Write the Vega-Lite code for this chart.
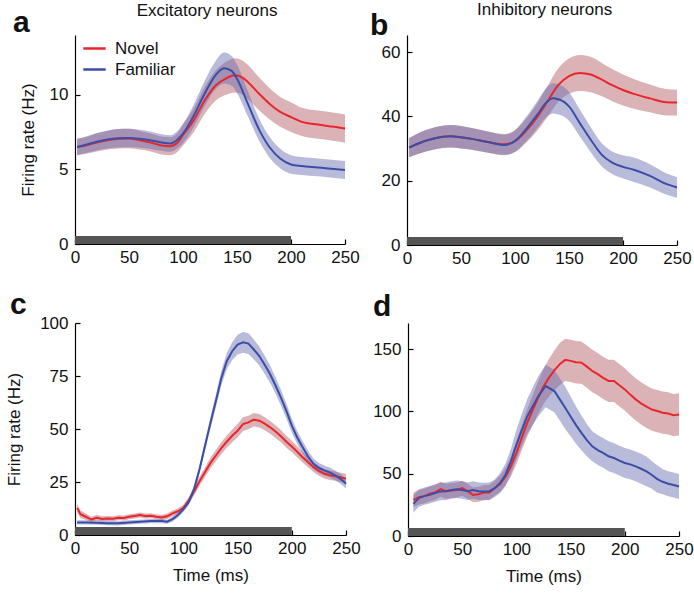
{
  "$schema": "https://vega.github.io/schema/vega-lite/v6.json",
  "background": "white",
  "padding": {"left": 5, "top": 0, "right": 2, "bottom": 2},
  "config": {
    "font": "Liberation Sans",
    "view": {"stroke": null},
    "axis": {"grid": false, "domainColor": "#000", "domainWidth": 1.2, "tickColor": "#000", "tickWidth": 1.2, "tickSize": -5, "labelFontSize": 17, "labelColor": "#111", "titleFontSize": 17, "titleFontWeight": "normal", "titleColor": "#111", "labelPadding": 10, "labelFlush": false},
    "axisY": {"labelPadding": 12},
    "legend": {"labelFontSize": 17, "labelColor": "#111", "symbolStrokeWidth": 2.5, "symbolSize": 500, "rowPadding": 0, "labelOffset": 8},
    "title": {"font": "Liberation Sans", "color": "#111"}
  },
  "datasets": {
    "pa": [
      {"t":2,"s":"Novel","m":6.5,"lo":5.95,"hi":7.05},{"t":10,"s":"Novel","m":6.6,"lo":6.05,"hi":7.15},{"t":20,"s":"Novel","m":6.8,"lo":6.2,"hi":7.4},{"t":30,"s":"Novel","m":6.95,"lo":6.33,"hi":7.57},{"t":40,"s":"Novel","m":7.05,"lo":6.4,"hi":7.7},{"t":50,"s":"Novel","m":7.07,"lo":6.42,"hi":7.72},{"t":60,"s":"Novel","m":6.95,"lo":6.33,"hi":7.57},{"t":70,"s":"Novel","m":6.8,"lo":6.2,"hi":7.4},{"t":80,"s":"Novel","m":6.6,"lo":6.0,"hi":7.2},{"t":88,"s":"Novel","m":6.55,"lo":5.95,"hi":7.15},{"t":95,"s":"Novel","m":6.8,"lo":6.18,"hi":7.42},{"t":100,"s":"Novel","m":7.3,"lo":6.6,"hi":8.0},{"t":110,"s":"Novel","m":8.3,"lo":7.5,"hi":9.1},{"t":120,"s":"Novel","m":9.6,"lo":8.7,"hi":10.5},{"t":130,"s":"Novel","m":10.6,"lo":9.6,"hi":11.6},{"t":140,"s":"Novel","m":11.1,"lo":10.0,"hi":12.2},{"t":148,"s":"Novel","m":11.3,"lo":10.15,"hi":12.45},{"t":155,"s":"Novel","m":11.15,"lo":10.0,"hi":12.3},{"t":160,"s":"Novel","m":10.85,"lo":9.7,"hi":12.0},{"t":170,"s":"Novel","m":10.1,"lo":9.0,"hi":11.2},{"t":180,"s":"Novel","m":9.4,"lo":8.35,"hi":10.45},{"t":190,"s":"Novel","m":8.85,"lo":7.85,"hi":9.85},{"t":200,"s":"Novel","m":8.5,"lo":7.5,"hi":9.5},{"t":210,"s":"Novel","m":8.18,"lo":7.23,"hi":9.13},{"t":225,"s":"Novel","m":8.0,"lo":7.05,"hi":8.95},{"t":240,"s":"Novel","m":7.85,"lo":6.9,"hi":8.8},{"t":250,"s":"Novel","m":7.73,"lo":6.78,"hi":8.68},
      {"t":2,"s":"Familiar","m":6.5,"lo":5.95,"hi":7.05},{"t":10,"s":"Familiar","m":6.65,"lo":6.1,"hi":7.2},{"t":20,"s":"Familiar","m":6.85,"lo":6.27,"hi":7.43},{"t":30,"s":"Familiar","m":7.0,"lo":6.4,"hi":7.6},{"t":40,"s":"Familiar","m":7.08,"lo":6.46,"hi":7.7},{"t":50,"s":"Familiar","m":7.1,"lo":6.48,"hi":7.72},{"t":60,"s":"Familiar","m":7.05,"lo":6.45,"hi":7.65},{"t":70,"s":"Familiar","m":6.95,"lo":6.37,"hi":7.53},{"t":80,"s":"Familiar","m":6.8,"lo":6.25,"hi":7.35},{"t":88,"s":"Familiar","m":6.73,"lo":6.18,"hi":7.28},{"t":95,"s":"Familiar","m":7.0,"lo":6.42,"hi":7.58},{"t":100,"s":"Familiar","m":7.4,"lo":6.75,"hi":8.05},{"t":110,"s":"Familiar","m":8.6,"lo":7.85,"hi":9.35},{"t":120,"s":"Familiar","m":10.07,"lo":9.22,"hi":10.92},{"t":130,"s":"Familiar","m":11.3,"lo":10.35,"hi":12.25},{"t":138,"s":"Familiar","m":11.78,"lo":10.73,"hi":12.83},{"t":145,"s":"Familiar","m":11.6,"lo":10.6,"hi":12.6},{"t":150,"s":"Familiar","m":11.07,"lo":10.12,"hi":12.02},{"t":160,"s":"Familiar","m":9.4,"lo":8.55,"hi":10.25},{"t":170,"s":"Familiar","m":7.73,"lo":6.98,"hi":8.48},{"t":180,"s":"Familiar","m":6.5,"lo":5.8,"hi":7.2},{"t":190,"s":"Familiar","m":5.73,"lo":5.08,"hi":6.38},{"t":200,"s":"Familiar","m":5.33,"lo":4.71,"hi":5.95},{"t":210,"s":"Familiar","m":5.22,"lo":4.62,"hi":5.82},{"t":225,"s":"Familiar","m":5.13,"lo":4.53,"hi":5.73},{"t":240,"s":"Familiar","m":5.02,"lo":4.42,"hi":5.62},{"t":250,"s":"Familiar","m":4.96,"lo":4.36,"hi":5.56}
    ],
    "pb": [
      {"t":2,"s":"Novel","m":30.3,"lo":27.3,"hi":33.3},{"t":10,"s":"Novel","m":31.5,"lo":28.3,"hi":34.7},{"t":25,"s":"Novel","m":33.1,"lo":29.7,"hi":36.5},{"t":40,"s":"Novel","m":33.8,"lo":30.3,"hi":37.3},{"t":50,"s":"Novel","m":33.5,"lo":30.0,"hi":37.0},{"t":60,"s":"Novel","m":33.0,"lo":29.6,"hi":36.4},{"t":75,"s":"Novel","m":32.0,"lo":28.7,"hi":35.3},{"t":90,"s":"Novel","m":31.3,"lo":28.1,"hi":34.5},{"t":100,"s":"Novel","m":32.3,"lo":28.9,"hi":35.7},{"t":110,"s":"Novel","m":35.4,"lo":31.7,"hi":39.1},{"t":120,"s":"Novel","m":39.5,"lo":35.3,"hi":43.7},{"t":130,"s":"Novel","m":44.6,"lo":39.8,"hi":49.4},{"t":140,"s":"Novel","m":49.7,"lo":44.5,"hi":54.9},{"t":150,"s":"Novel","m":52.5,"lo":47.0,"hi":58.0},{"t":160,"s":"Novel","m":53.5,"lo":47.9,"hi":59.1},{"t":170,"s":"Novel","m":53.0,"lo":47.5,"hi":58.5},{"t":180,"s":"Novel","m":51.5,"lo":46.3,"hi":56.7},{"t":190,"s":"Novel","m":49.7,"lo":44.7,"hi":54.7},{"t":200,"s":"Novel","m":48.2,"lo":43.4,"hi":53.0},{"t":210,"s":"Novel","m":47.0,"lo":42.4,"hi":51.6},{"t":225,"s":"Novel","m":45.6,"lo":41.3,"hi":49.9},{"t":240,"s":"Novel","m":44.4,"lo":40.3,"hi":48.5},{"t":250,"s":"Novel","m":44.3,"lo":40.3,"hi":48.3},
      {"t":2,"s":"Familiar","m":30.3,"lo":27.3,"hi":33.3},{"t":10,"s":"Familiar","m":31.5,"lo":28.3,"hi":34.7},{"t":25,"s":"Familiar","m":33.1,"lo":29.7,"hi":36.5},{"t":40,"s":"Familiar","m":33.8,"lo":30.3,"hi":37.3},{"t":50,"s":"Familiar","m":33.5,"lo":30.0,"hi":37.0},{"t":60,"s":"Familiar","m":33.0,"lo":29.6,"hi":36.4},{"t":75,"s":"Familiar","m":32.0,"lo":28.7,"hi":35.3},{"t":90,"s":"Familiar","m":31.1,"lo":27.9,"hi":34.3},{"t":100,"s":"Familiar","m":32.3,"lo":28.9,"hi":35.7},{"t":110,"s":"Familiar","m":35.9,"lo":32.1,"hi":39.7},{"t":120,"s":"Familiar","m":40.2,"lo":36.0,"hi":44.4},{"t":130,"s":"Familiar","m":44.6,"lo":40.0,"hi":49.2},{"t":135,"s":"Familiar","m":45.6,"lo":40.9,"hi":50.3},{"t":140,"s":"Familiar","m":45.3,"lo":40.6,"hi":50.0},{"t":145,"s":"Familiar","m":44.6,"lo":40.0,"hi":49.2},{"t":150,"s":"Familiar","m":43.1,"lo":38.6,"hi":47.6},{"t":160,"s":"Familiar","m":37.9,"lo":33.7,"hi":42.1},{"t":170,"s":"Familiar","m":32.8,"lo":28.9,"hi":36.7},{"t":180,"s":"Familiar","m":28.2,"lo":24.6,"hi":31.8},{"t":190,"s":"Familiar","m":25.6,"lo":22.1,"hi":29.1},{"t":200,"s":"Familiar","m":24.3,"lo":20.7,"hi":27.9},{"t":210,"s":"Familiar","m":23.4,"lo":19.6,"hi":27.2},{"t":225,"s":"Familiar","m":21.5,"lo":17.9,"hi":25.1},{"t":240,"s":"Familiar","m":19.0,"lo":15.7,"hi":22.3},{"t":250,"s":"Familiar","m":17.9,"lo":14.7,"hi":21.1}
    ],
    "pc": [
      {"t":2,"s":"Novel","m":12.8,"lo":10.8,"hi":14.8},{"t":5,"s":"Novel","m":9.8,"lo":8.0,"hi":11.6},{"t":10,"s":"Novel","m":8.6,"lo":7.1,"hi":10.1},{"t":15,"s":"Novel","m":7.3,"lo":6.0,"hi":8.6},{"t":20,"s":"Novel","m":8.1,"lo":6.8,"hi":9.4},{"t":25,"s":"Novel","m":7.6,"lo":6.4,"hi":8.8},{"t":30,"s":"Novel","m":7.8,"lo":6.6,"hi":9.0},{"t":35,"s":"Novel","m":7.7,"lo":6.5,"hi":8.9},{"t":40,"s":"Novel","m":8.1,"lo":6.9,"hi":9.3},{"t":45,"s":"Novel","m":8.0,"lo":6.8,"hi":9.2},{"t":50,"s":"Novel","m":8.6,"lo":7.4,"hi":9.8},{"t":55,"s":"Novel","m":9.0,"lo":7.8,"hi":10.2},{"t":60,"s":"Novel","m":9.4,"lo":8.2,"hi":10.6},{"t":65,"s":"Novel","m":9.0,"lo":7.8,"hi":10.2},{"t":70,"s":"Novel","m":9.1,"lo":7.9,"hi":10.3},{"t":75,"s":"Novel","m":8.6,"lo":7.4,"hi":9.8},{"t":80,"s":"Novel","m":8.3,"lo":7.1,"hi":9.5},{"t":85,"s":"Novel","m":8.8,"lo":7.5,"hi":10.1},{"t":90,"s":"Novel","m":10.2,"lo":8.9,"hi":11.5},{"t":95,"s":"Novel","m":11.2,"lo":9.8,"hi":12.6},{"t":100,"s":"Novel","m":12.8,"lo":11.3,"hi":14.3},{"t":105,"s":"Novel","m":16.4,"lo":14.7,"hi":18.1},{"t":110,"s":"Novel","m":20.6,"lo":18.7,"hi":22.5},{"t":115,"s":"Novel","m":25.5,"lo":23.4,"hi":27.6},{"t":120,"s":"Novel","m":29.7,"lo":27.4,"hi":32.0},{"t":125,"s":"Novel","m":34.0,"lo":31.5,"hi":36.5},{"t":130,"s":"Novel","m":37.5,"lo":34.8,"hi":40.2},{"t":135,"s":"Novel","m":41.0,"lo":38.2,"hi":43.8},{"t":140,"s":"Novel","m":44.0,"lo":41.1,"hi":46.9},{"t":145,"s":"Novel","m":46.8,"lo":43.8,"hi":49.8},{"t":150,"s":"Novel","m":49.2,"lo":46.1,"hi":52.3},{"t":155,"s":"Novel","m":52.3,"lo":49.1,"hi":55.5},{"t":160,"s":"Novel","m":53.1,"lo":49.9,"hi":56.3},{"t":165,"s":"Novel","m":54.4,"lo":51.2,"hi":57.6},{"t":170,"s":"Novel","m":53.9,"lo":50.7,"hi":57.1},{"t":175,"s":"Novel","m":52.5,"lo":49.4,"hi":55.6},{"t":180,"s":"Novel","m":50.8,"lo":47.8,"hi":53.8},{"t":185,"s":"Novel","m":48.8,"lo":45.8,"hi":51.8},{"t":190,"s":"Novel","m":46.6,"lo":43.7,"hi":49.5},{"t":195,"s":"Novel","m":44.0,"lo":41.2,"hi":46.8},{"t":200,"s":"Novel","m":41.7,"lo":39.0,"hi":44.4},{"t":205,"s":"Novel","m":39.3,"lo":36.7,"hi":41.9},{"t":210,"s":"Novel","m":36.7,"lo":34.2,"hi":39.2},{"t":215,"s":"Novel","m":34.3,"lo":31.9,"hi":36.7},{"t":220,"s":"Novel","m":32.0,"lo":29.7,"hi":34.3},{"t":225,"s":"Novel","m":30.2,"lo":27.9,"hi":32.5},{"t":230,"s":"Novel","m":28.9,"lo":26.7,"hi":31.1},{"t":235,"s":"Novel","m":28.2,"lo":26.0,"hi":30.4},{"t":240,"s":"Novel","m":27.8,"lo":25.6,"hi":30.0},{"t":245,"s":"Novel","m":27.2,"lo":25.0,"hi":29.4},{"t":250,"s":"Novel","m":26.6,"lo":24.4,"hi":28.8},
      {"t":2,"s":"Familiar","m":5.9,"lo":4.9,"hi":6.9},{"t":10,"s":"Familiar","m":5.9,"lo":4.9,"hi":6.9},{"t":20,"s":"Familiar","m":5.8,"lo":4.8,"hi":6.8},{"t":30,"s":"Familiar","m":5.6,"lo":4.6,"hi":6.6},{"t":40,"s":"Familiar","m":5.5,"lo":4.5,"hi":6.5},{"t":50,"s":"Familiar","m":5.9,"lo":4.9,"hi":6.9},{"t":60,"s":"Familiar","m":6.25,"lo":5.25,"hi":7.25},{"t":70,"s":"Familiar","m":6.6,"lo":5.6,"hi":7.6},{"t":80,"s":"Familiar","m":6.6,"lo":5.6,"hi":7.6},{"t":85,"s":"Familiar","m":6.25,"lo":5.25,"hi":7.25},{"t":90,"s":"Familiar","m":7.5,"lo":6.4,"hi":8.6},{"t":95,"s":"Familiar","m":9.4,"lo":8.2,"hi":10.6},{"t":100,"s":"Familiar","m":12.2,"lo":10.9,"hi":13.5},{"t":105,"s":"Familiar","m":15.6,"lo":14.1,"hi":17.1},{"t":110,"s":"Familiar","m":21.9,"lo":20.1,"hi":23.7},{"t":115,"s":"Familiar","m":31.3,"lo":29.3,"hi":33.3},{"t":120,"s":"Familiar","m":42.2,"lo":39.9,"hi":44.5},{"t":125,"s":"Familiar","m":53.0,"lo":50.4,"hi":55.6},{"t":130,"s":"Familiar","m":63.3,"lo":60.3,"hi":66.3},{"t":135,"s":"Familiar","m":74.0,"lo":70.6,"hi":77.4},{"t":140,"s":"Familiar","m":82.0,"lo":78.2,"hi":85.8},{"t":145,"s":"Familiar","m":86.7,"lo":82.5,"hi":90.9},{"t":150,"s":"Familiar","m":89.8,"lo":85.2,"hi":94.4},{"t":155,"s":"Familiar","m":90.9,"lo":86.0,"hi":95.8},{"t":160,"s":"Familiar","m":90.3,"lo":85.4,"hi":95.2},{"t":165,"s":"Familiar","m":87.5,"lo":82.8,"hi":92.2},{"t":170,"s":"Familiar","m":84.4,"lo":79.9,"hi":88.9},{"t":175,"s":"Familiar","m":80.3,"lo":76.0,"hi":84.6},{"t":180,"s":"Familiar","m":75.8,"lo":71.7,"hi":79.9},{"t":185,"s":"Familiar","m":70.5,"lo":66.6,"hi":74.4},{"t":190,"s":"Familiar","m":64.8,"lo":61.1,"hi":68.5},{"t":195,"s":"Familiar","m":58.5,"lo":55.0,"hi":62.0},{"t":200,"s":"Familiar","m":51.6,"lo":48.3,"hi":54.9},{"t":205,"s":"Familiar","m":46.0,"lo":42.9,"hi":49.1},{"t":210,"s":"Familiar","m":41.4,"lo":38.5,"hi":44.3},{"t":215,"s":"Familiar","m":37.0,"lo":34.3,"hi":39.7},{"t":220,"s":"Familiar","m":33.6,"lo":31.1,"hi":36.1},{"t":225,"s":"Familiar","m":31.6,"lo":29.2,"hi":34.0},{"t":230,"s":"Familiar","m":30.5,"lo":28.2,"hi":32.8},{"t":235,"s":"Familiar","m":29.5,"lo":27.2,"hi":31.8},{"t":240,"s":"Familiar","m":28.1,"lo":25.8,"hi":30.4},{"t":245,"s":"Familiar","m":26.5,"lo":24.2,"hi":28.8},{"t":250,"s":"Familiar","m":24.2,"lo":21.9,"hi":26.5}
    ],
    "pd": [
      {"t":5,"s":"Novel","m":29.0,"lo":23.0,"hi":35.0},{"t":10,"s":"Novel","m":31.2,"lo":25.2,"hi":37.2},{"t":15,"s":"Novel","m":32.0,"lo":26.0,"hi":38.0},{"t":20,"s":"Novel","m":33.9,"lo":27.9,"hi":39.9},{"t":25,"s":"Novel","m":35.0,"lo":29.0,"hi":41.0},{"t":30,"s":"Novel","m":37.6,"lo":31.6,"hi":43.6},{"t":35,"s":"Novel","m":36.0,"lo":30.0,"hi":42.0},{"t":40,"s":"Novel","m":36.6,"lo":30.6,"hi":42.6},{"t":45,"s":"Novel","m":37.0,"lo":31.0,"hi":43.0},{"t":50,"s":"Novel","m":38.4,"lo":32.4,"hi":44.4},{"t":55,"s":"Novel","m":36.0,"lo":30.0,"hi":42.0},{"t":60,"s":"Novel","m":33.0,"lo":27.0,"hi":39.0},{"t":65,"s":"Novel","m":33.5,"lo":27.5,"hi":39.5},{"t":70,"s":"Novel","m":34.9,"lo":28.9,"hi":40.9},{"t":75,"s":"Novel","m":35.0,"lo":29.0,"hi":41.0},{"t":80,"s":"Novel","m":38.4,"lo":32.4,"hi":44.4},{"t":85,"s":"Novel","m":42.0,"lo":35.5,"hi":48.5},{"t":90,"s":"Novel","m":47.8,"lo":40.8,"hi":54.8},{"t":95,"s":"Novel","m":56.0,"lo":48.0,"hi":64.0},{"t":100,"s":"Novel","m":66.7,"lo":57.7,"hi":75.7},{"t":105,"s":"Novel","m":79.0,"lo":69.0,"hi":89.0},{"t":110,"s":"Novel","m":90.9,"lo":79.9,"hi":101.9},{"t":115,"s":"Novel","m":101.0,"lo":89.0,"hi":113.0},{"t":120,"s":"Novel","m":111.0,"lo":98.0,"hi":124.0},{"t":125,"s":"Novel","m":120.0,"lo":106.0,"hi":134.0},{"t":130,"s":"Novel","m":127.0,"lo":112.0,"hi":142.0},{"t":135,"s":"Novel","m":133.0,"lo":117.0,"hi":149.0},{"t":140,"s":"Novel","m":138.0,"lo":121.0,"hi":155.0},{"t":145,"s":"Novel","m":141.4,"lo":124.4,"hi":158.4},{"t":150,"s":"Novel","m":140.6,"lo":123.6,"hi":157.6},{"t":155,"s":"Novel","m":139.5,"lo":122.5,"hi":156.5},{"t":160,"s":"Novel","m":139.2,"lo":122.2,"hi":156.2},{"t":165,"s":"Novel","m":136.0,"lo":119.0,"hi":153.0},{"t":170,"s":"Novel","m":132.5,"lo":115.5,"hi":149.5},{"t":175,"s":"Novel","m":130.0,"lo":113.0,"hi":147.0},{"t":180,"s":"Novel","m":127.0,"lo":110.0,"hi":144.0},{"t":185,"s":"Novel","m":124.5,"lo":107.5,"hi":141.5},{"t":190,"s":"Novel","m":124.5,"lo":107.5,"hi":141.5},{"t":195,"s":"Novel","m":121.0,"lo":104.0,"hi":138.0},{"t":200,"s":"Novel","m":117.7,"lo":100.7,"hi":134.7},{"t":205,"s":"Novel","m":113.5,"lo":96.5,"hi":130.5},{"t":210,"s":"Novel","m":109.7,"lo":92.7,"hi":126.7},{"t":215,"s":"Novel","m":106.5,"lo":89.5,"hi":123.5},{"t":220,"s":"Novel","m":103.8,"lo":86.8,"hi":120.8},{"t":225,"s":"Novel","m":101.5,"lo":84.5,"hi":118.5},{"t":230,"s":"Novel","m":100.3,"lo":83.3,"hi":117.3},{"t":235,"s":"Novel","m":99.0,"lo":82.0,"hi":116.0},{"t":240,"s":"Novel","m":98.4,"lo":81.4,"hi":115.4},{"t":245,"s":"Novel","m":97.0,"lo":80.0,"hi":114.0},{"t":250,"s":"Novel","m":97.6,"lo":80.6,"hi":114.6},
      {"t":5,"s":"Familiar","m":25.8,"lo":18.8,"hi":32.8},{"t":10,"s":"Familiar","m":30.4,"lo":23.4,"hi":37.4},{"t":15,"s":"Familiar","m":32.0,"lo":25.0,"hi":39.0},{"t":20,"s":"Familiar","m":33.0,"lo":26.0,"hi":40.0},{"t":25,"s":"Familiar","m":34.5,"lo":27.5,"hi":41.5},{"t":30,"s":"Familiar","m":35.8,"lo":28.8,"hi":42.8},{"t":35,"s":"Familiar","m":36.0,"lo":29.0,"hi":43.0},{"t":40,"s":"Familiar","m":37.0,"lo":30.0,"hi":44.0},{"t":45,"s":"Familiar","m":37.5,"lo":30.5,"hi":44.5},{"t":50,"s":"Familiar","m":37.0,"lo":30.0,"hi":44.0},{"t":55,"s":"Familiar","m":36.0,"lo":29.0,"hi":43.0},{"t":60,"s":"Familiar","m":37.0,"lo":30.0,"hi":44.0},{"t":65,"s":"Familiar","m":36.0,"lo":29.0,"hi":43.0},{"t":70,"s":"Familiar","m":35.8,"lo":28.8,"hi":42.8},{"t":75,"s":"Familiar","m":36.0,"lo":29.0,"hi":43.0},{"t":80,"s":"Familiar","m":38.4,"lo":31.4,"hi":45.4},{"t":85,"s":"Familiar","m":42.5,"lo":34.5,"hi":50.5},{"t":90,"s":"Familiar","m":49.2,"lo":40.2,"hi":58.2},{"t":95,"s":"Familiar","m":60.0,"lo":50.0,"hi":70.0},{"t":100,"s":"Familiar","m":73.4,"lo":61.4,"hi":85.4},{"t":105,"s":"Familiar","m":85.0,"lo":72.0,"hi":98.0},{"t":110,"s":"Familiar","m":96.0,"lo":82.0,"hi":110.0},{"t":115,"s":"Familiar","m":104.0,"lo":89.0,"hi":119.0},{"t":120,"s":"Familiar","m":112.0,"lo":96.0,"hi":128.0},{"t":127,"s":"Familiar","m":120.4,"lo":103.4,"hi":137.4},{"t":135,"s":"Familiar","m":116.4,"lo":99.4,"hi":133.4},{"t":140,"s":"Familiar","m":109.7,"lo":92.7,"hi":126.7},{"t":145,"s":"Familiar","m":103.0,"lo":86.0,"hi":120.0},{"t":150,"s":"Familiar","m":96.0,"lo":80.0,"hi":112.0},{"t":155,"s":"Familiar","m":89.0,"lo":74.0,"hi":104.0},{"t":160,"s":"Familiar","m":82.8,"lo":68.8,"hi":96.8},{"t":165,"s":"Familiar","m":77.0,"lo":64.0,"hi":90.0},{"t":170,"s":"Familiar","m":72.0,"lo":60.0,"hi":84.0},{"t":175,"s":"Familiar","m":69.0,"lo":57.0,"hi":81.0},{"t":180,"s":"Familiar","m":66.7,"lo":54.7,"hi":78.7},{"t":185,"s":"Familiar","m":64.0,"lo":52.0,"hi":76.0},{"t":190,"s":"Familiar","m":62.6,"lo":50.6,"hi":74.6},{"t":195,"s":"Familiar","m":60.5,"lo":48.5,"hi":72.5},{"t":200,"s":"Familiar","m":58.6,"lo":46.6,"hi":70.6},{"t":205,"s":"Familiar","m":57.5,"lo":45.5,"hi":69.5},{"t":210,"s":"Familiar","m":55.9,"lo":43.9,"hi":67.9},{"t":215,"s":"Familiar","m":54.0,"lo":42.0,"hi":66.0},{"t":220,"s":"Familiar","m":51.9,"lo":39.9,"hi":63.9},{"t":225,"s":"Familiar","m":49.0,"lo":38.0,"hi":60.0},{"t":230,"s":"Familiar","m":45.7,"lo":34.7,"hi":56.7},{"t":235,"s":"Familiar","m":43.5,"lo":33.5,"hi":53.5},{"t":240,"s":"Familiar","m":42.0,"lo":32.0,"hi":52.0},{"t":245,"s":"Familiar","m":41.0,"lo":31.0,"hi":51.0},{"t":250,"s":"Familiar","m":39.8,"lo":29.8,"hi":49.8}
    ],
    "stim": [{"on": 0, "off": 200}]
  },
  "spacing": 24,
  "vconcat": [
    {
      "spacing": 10,
      "hconcat": [
        {
          "title": {"text": "Excitatory neurons", "fontSize": 17, "fontWeight": "normal", "anchor": "middle", "dx": 21, "offset": -12},
          "vconcat": [
            {
              "title": {"text": "a", "anchor": "start", "frame": "group", "dx": -62, "fontSize": 30, "fontWeight": "bold", "offset": -2.5},
              "width": 270, "height": 209,
              "layer": [
                {"data": {"name": "pa"}, "transform": [{"filter": "datum.s === 'Novel'"}], "mark": {"type": "area", "opacity": 0.45, "interpolate": "monotone", "color": "#b05660"},
                 "encoding": {
                   "x": {"field": "t", "type": "quantitative", "scale": {"domain": [0, 250], "nice": false}, "axis": {"values": [0, 50, 100, 150, 200, 250], "title": null}},
                   "y": {"field": "lo", "type": "quantitative", "stack": null, "scale": {"domain": [0, 14], "nice": false}, "axis": {"values": [0, 5, 10], "title": "Firing rate (Hz)", "titlePadding": 12}},
                   "y2": {"field": "hi"}}},
                {"data": {"name": "pa"}, "transform": [{"filter": "datum.s === 'Familiar'"}], "mark": {"type": "area", "opacity": 0.45, "interpolate": "monotone", "color": "#6468b0"},
                 "encoding": {"x": {"field": "t", "type": "quantitative"}, "y": {"field": "lo", "type": "quantitative", "stack": null}, "y2": {"field": "hi"}}},
                {"data": {"name": "pa"}, "mark": {"type": "line", "strokeWidth": 2, "interpolate": "monotone"},
                 "encoding": {
                   "x": {"field": "t", "type": "quantitative"},
                   "y": {"field": "m", "type": "quantitative"},
                   "color": {"field": "s", "type": "nominal", "sort": ["Novel", "Familiar"], "scale": {"domain": ["Novel", "Familiar"], "range": ["#e8262c", "#3a4ea6"]}, "legend": {"title": null, "orient": "none", "legendX": 7, "legendY": 1}}}},
                {"data": {"name": "stim"}, "mark": {"type": "rule", "color": "#555555", "strokeWidth": 8, "yOffset": -4, "strokeCap": "butt"},
                 "encoding": {"x": {"field": "on", "type": "quantitative"}, "x2": {"field": "off"}, "y": {"datum": 0}}}
              ]
            }
          ]
        },
        {
          "title": {"text": "Inhibitory neurons", "fontSize": 17, "fontWeight": "normal", "anchor": "middle", "dx": 14, "offset": -8},
          "vconcat": [
            {
              "title": {"text": "b", "anchor": "start", "frame": "group", "dx": -37, "fontSize": 30, "fontWeight": "bold", "offset": -5.5},
              "width": 270, "height": 210,
              "layer": [
                {"data": {"name": "pb"}, "transform": [{"filter": "datum.s === 'Novel'"}], "mark": {"type": "area", "opacity": 0.45, "interpolate": "monotone", "color": "#b05660"},
                 "encoding": {
                   "x": {"field": "t", "type": "quantitative", "scale": {"domain": [0, 250], "nice": false}, "axis": {"values": [0, 50, 100, 150, 200, 250], "title": null}},
                   "y": {"field": "lo", "type": "quantitative", "stack": null, "scale": {"domain": [0, 65.3], "nice": false}, "axis": {"values": [0, 10, 20, 30, 40, 50, 60], "labelExpr": "datum.value % 20 === 0 ? datum.label : ''", "title": null}},
                   "y2": {"field": "hi"}}},
                {"data": {"name": "pb"}, "transform": [{"filter": "datum.s === 'Familiar'"}], "mark": {"type": "area", "opacity": 0.45, "interpolate": "monotone", "color": "#6468b0"},
                 "encoding": {"x": {"field": "t", "type": "quantitative"}, "y": {"field": "lo", "type": "quantitative", "stack": null}, "y2": {"field": "hi"}}},
                {"data": {"name": "pb"}, "mark": {"type": "line", "strokeWidth": 2, "interpolate": "monotone"},
                 "encoding": {
                   "x": {"field": "t", "type": "quantitative"},
                   "y": {"field": "m", "type": "quantitative"},
                   "color": {"field": "s", "type": "nominal", "scale": {"domain": ["Novel", "Familiar"], "range": ["#e8262c", "#3a4ea6"]}, "legend": null}}},
                {"data": {"name": "stim"}, "mark": {"type": "rule", "color": "#555555", "strokeWidth": 8, "yOffset": -4, "strokeCap": "butt"},
                 "encoding": {"x": {"field": "on", "type": "quantitative"}, "x2": {"field": "off"}, "y": {"datum": 0}}}
              ]
            }
          ]
        }
      ]
    },
    {
      "spacing": 11,
      "hconcat": [
        {
          "title": {"text": "c", "anchor": "start", "frame": "group", "dx": -65, "fontSize": 30, "fontWeight": "bold", "offset": -6},
          "width": 271, "height": 212,
          "layer": [
            {"data": {"name": "pc"}, "transform": [{"filter": "datum.s === 'Novel'"}], "mark": {"type": "area", "opacity": 0.45, "color": "#b05660"},
             "encoding": {
               "x": {"field": "t", "type": "quantitative", "scale": {"domain": [0, 250], "nice": false}, "axis": {"values": [0, 50, 100, 150, 200, 250], "title": "Time (ms)", "titlePadding": 11}},
               "y": {"field": "lo", "type": "quantitative", "stack": null, "scale": {"domain": [0, 100], "nice": false}, "axis": {"values": [0, 25, 50, 75, 100], "title": "Firing rate (Hz)", "titlePadding": 16}},
               "y2": {"field": "hi"}}},
            {"data": {"name": "pc"}, "transform": [{"filter": "datum.s === 'Familiar'"}], "mark": {"type": "area", "opacity": 0.45, "color": "#6468b0"},
             "encoding": {"x": {"field": "t", "type": "quantitative"}, "y": {"field": "lo", "type": "quantitative", "stack": null}, "y2": {"field": "hi"}}},
            {"data": {"name": "pc"}, "mark": {"type": "line", "strokeWidth": 2},
             "encoding": {
               "x": {"field": "t", "type": "quantitative"},
               "y": {"field": "m", "type": "quantitative"},
               "color": {"field": "s", "type": "nominal", "scale": {"domain": ["Novel", "Familiar"], "range": ["#e8262c", "#3a4ea6"]}, "legend": null}}},
            {"data": {"name": "stim"}, "mark": {"type": "rule", "color": "#555555", "strokeWidth": 8, "yOffset": -4, "strokeCap": "butt"},
             "encoding": {"x": {"field": "on", "type": "quantitative"}, "x2": {"field": "off"}, "y": {"datum": 0}}}
          ]
        },
        {
          "title": {"text": "d", "anchor": "start", "frame": "group", "dx": -35, "fontSize": 30, "fontWeight": "bold", "offset": 1},
          "width": 271, "height": 213,
          "layer": [
            {"data": {"name": "pd"}, "transform": [{"filter": "datum.s === 'Novel'"}], "mark": {"type": "area", "opacity": 0.45, "color": "#b05660"},
             "encoding": {
               "x": {"field": "t", "type": "quantitative", "scale": {"domain": [0, 250], "nice": false}, "axis": {"values": [0, 50, 100, 150, 200, 250], "title": "Time (ms)", "titlePadding": 11}},
               "y": {"field": "lo", "type": "quantitative", "stack": null, "scale": {"domain": [0, 171], "nice": false}, "axis": {"values": [0, 50, 100, 150], "title": null}},
               "y2": {"field": "hi"}}},
            {"data": {"name": "pd"}, "transform": [{"filter": "datum.s === 'Familiar'"}], "mark": {"type": "area", "opacity": 0.45, "color": "#6468b0"},
             "encoding": {"x": {"field": "t", "type": "quantitative"}, "y": {"field": "lo", "type": "quantitative", "stack": null}, "y2": {"field": "hi"}}},
            {"data": {"name": "pd"}, "mark": {"type": "line", "strokeWidth": 2},
             "encoding": {
               "x": {"field": "t", "type": "quantitative"},
               "y": {"field": "m", "type": "quantitative"},
               "color": {"field": "s", "type": "nominal", "scale": {"domain": ["Novel", "Familiar"], "range": ["#e8262c", "#3a4ea6"]}, "legend": null}}},
            {"data": {"name": "stim"}, "mark": {"type": "rule", "color": "#555555", "strokeWidth": 8, "yOffset": -4, "strokeCap": "butt"},
             "encoding": {"x": {"field": "on", "type": "quantitative"}, "x2": {"field": "off"}, "y": {"datum": 0}}}
          ]
        }
      ]
    }
  ]
}
